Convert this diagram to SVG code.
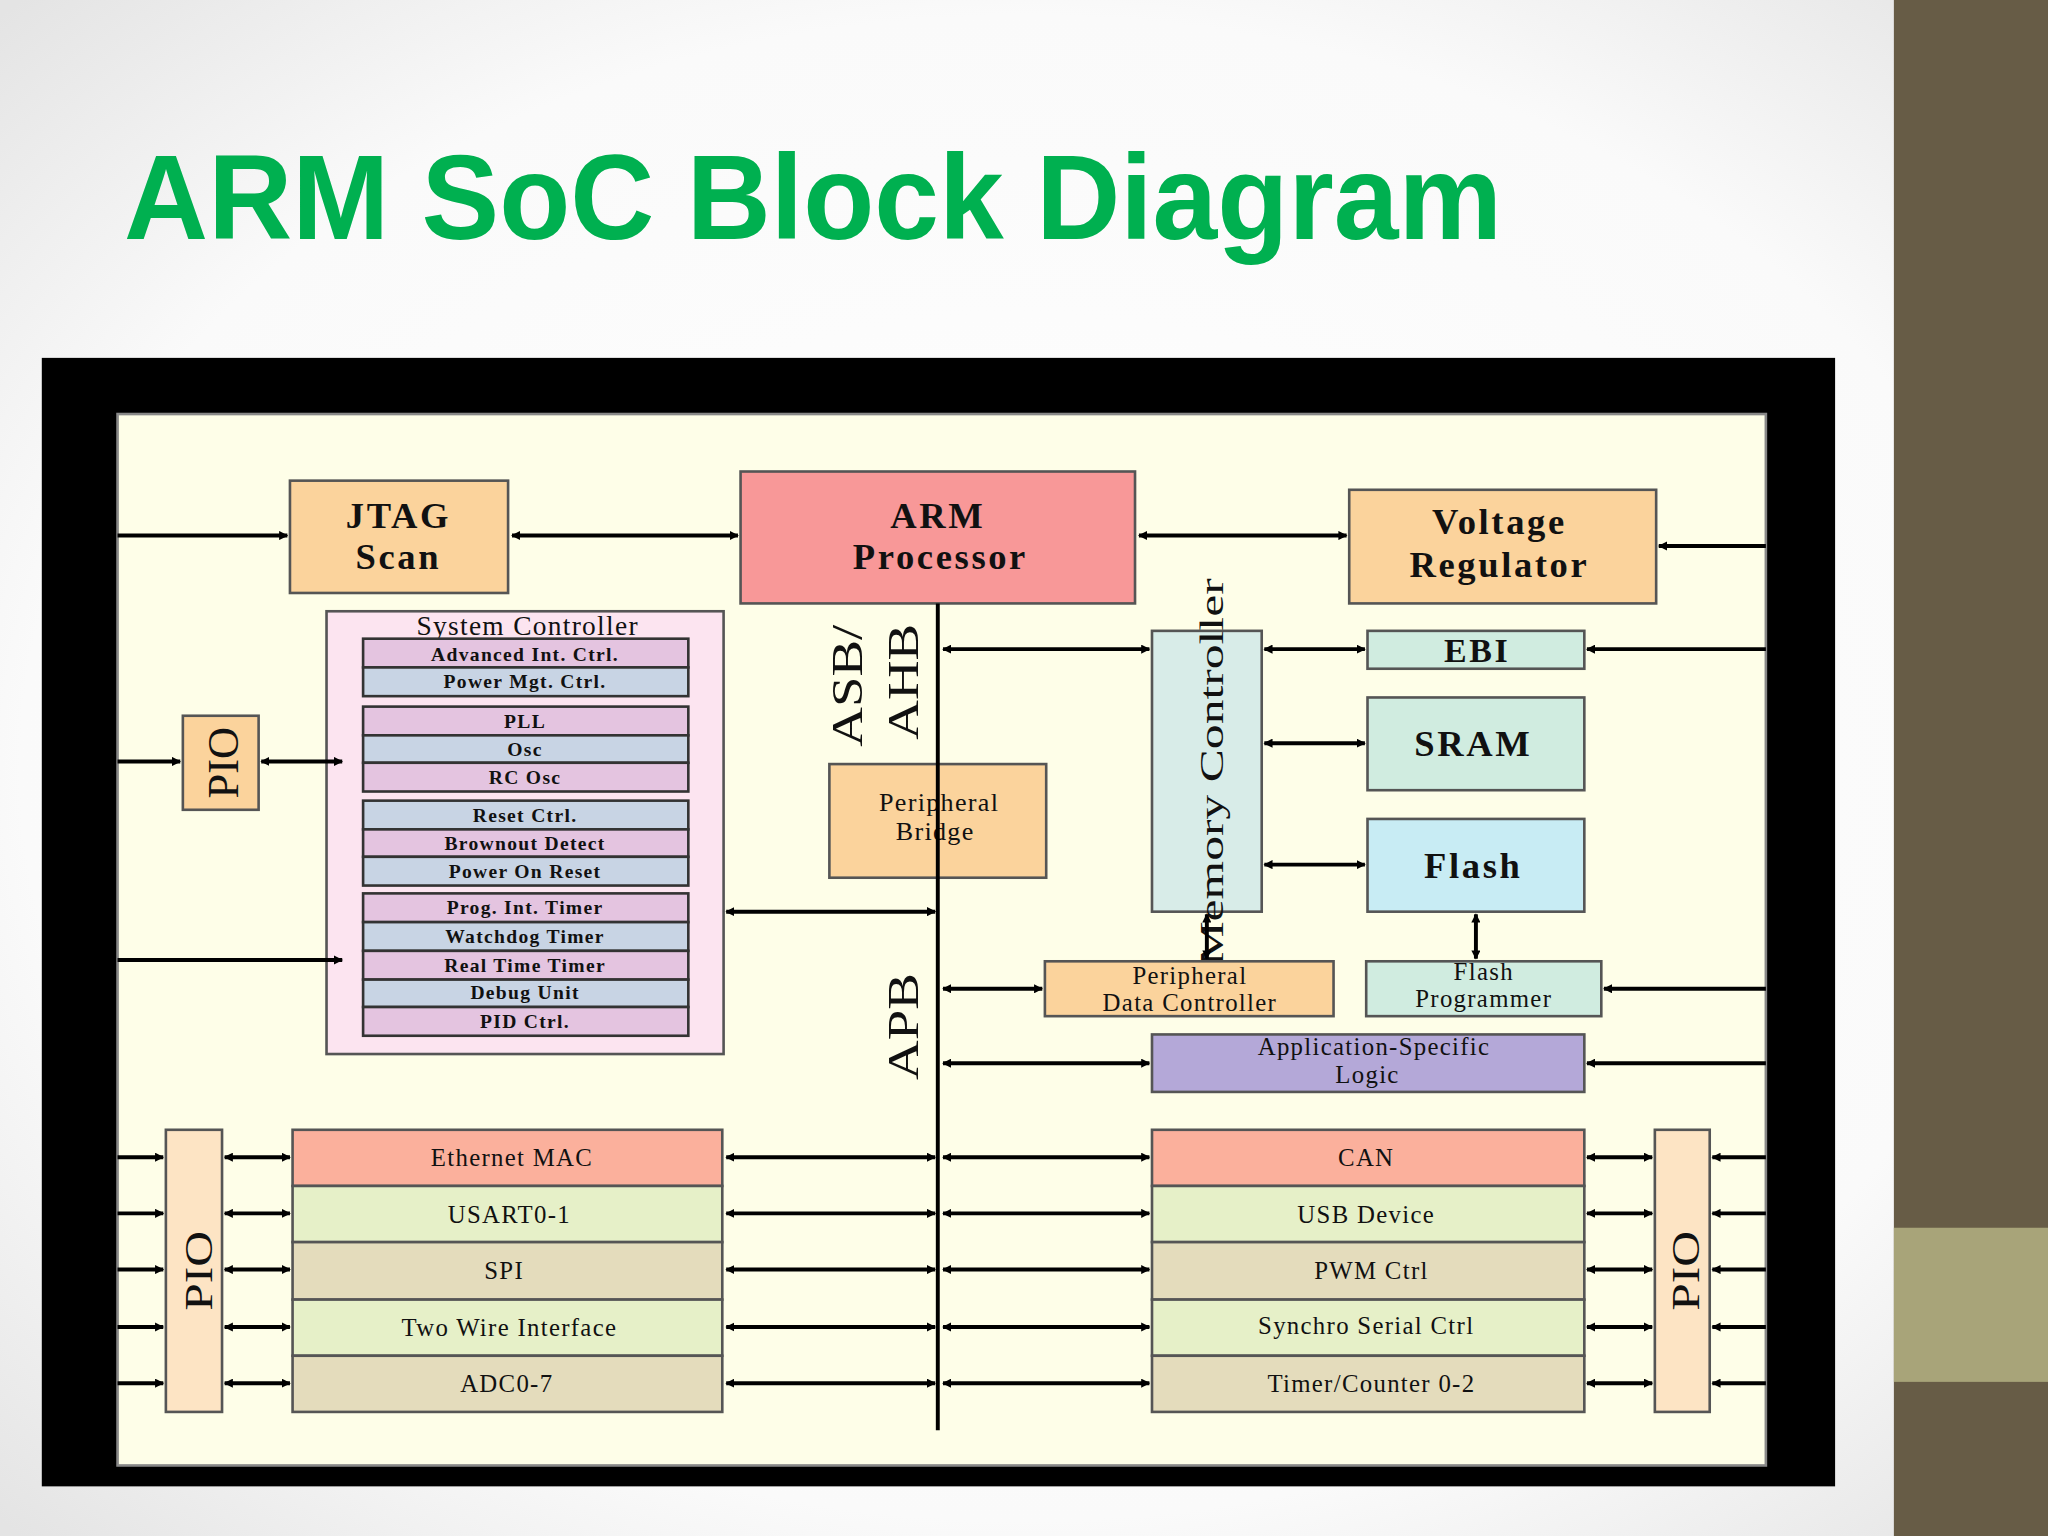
<svg xmlns="http://www.w3.org/2000/svg" width="2048" height="1536" viewBox="0 0 2048 1536">
<defs>
<radialGradient id="bg" cx="0.5" cy="0.5" r="0.7"><stop offset="0" stop-color="#ffffff"/><stop offset="0.7" stop-color="#fafafa"/><stop offset="1" stop-color="#e4e4e4"/></radialGradient>
<marker id="a" viewBox="0 0 10 10" refX="9" refY="5" markerWidth="7" markerHeight="7" orient="auto-start-reverse" markerUnits="userSpaceOnUse"><path d="M0,0 L10,5 L0,10 z" fill="#000"/></marker>
<style>
.b{stroke:#555;stroke-width:2}
.t{font-family:"Liberation Serif","DejaVu Serif",serif;font-weight:bold;fill:#111;text-anchor:middle;letter-spacing:2px}
.s{font-family:"Liberation Serif","DejaVu Serif",serif;font-weight:bold;fill:#111;text-anchor:middle;font-size:15px;letter-spacing:1px}
.v{font-family:"Liberation Serif","DejaVu Serif",serif;fill:#111;text-anchor:middle}
.c line{stroke:#000;stroke-width:3}
.d{marker-end:url(#a);marker-start:url(#a)}
.e{marker-end:url(#a)}
</style>
</defs>
<rect width="2048" height="1536" fill="url(#bg)"/>
<g transform="scale(1.30612)">
<rect x="1450" y="0" width="118" height="1176" fill="#675c46"/>
<rect x="1450" y="940" width="118" height="118" fill="#a8a479"/>
<text x="95" y="183" font-family="Liberation Sans,Arial,sans-serif" font-weight="bold" font-size="92" fill="#00b050" textLength="1055" lengthAdjust="spacingAndGlyphs">ARM SoC Block Diagram</text>
<rect x="32" y="274" width="1373" height="864" fill="#000"/>
<rect x="90" y="317" width="1262" height="805" fill="#fefee8" stroke="#888" stroke-width="2"/>

<g id="jtag"><rect class="b" x="222" y="368" width="167" height="86" fill="#fbd39c"/><text class="t" x="305" y="404" font-size="28">JTAG</text><text class="t" x="305" y="436" font-size="28">Scan</text></g>
<g id="arm"><rect class="b" x="567" y="361" width="302" height="101" fill="#f89898"/><text class="t" x="718" y="404" font-size="28">ARM</text><text class="t" x="720" y="436" font-size="28">Processor</text></g>
<g id="vreg"><rect class="b" x="1033" y="375" width="235" height="87" fill="#fbd39c"/><text class="t" x="1148" y="409" font-size="28">Voltage</text><text class="t" x="1148" y="442" font-size="28">Regulator</text></g>

<g id="sysctrl"><rect class="b" x="250" y="468" width="304" height="339" fill="#fce4f0"/>
<text class="v" x="404" y="486" font-size="21" letter-spacing="1">System Controller</text>
<g stroke="#333" stroke-width="2">
<rect x="278" y="489" width="249" height="22" fill="#e4c4e0"/><rect x="278" y="511" width="249" height="22" fill="#c8d4e4"/>
<rect x="278" y="541" width="249" height="22" fill="#e4c4e0"/><rect x="278" y="563" width="249" height="21" fill="#c8d4e4"/><rect x="278" y="584" width="249" height="22" fill="#e4c4e0"/>
<rect x="278" y="613" width="249" height="22" fill="#c8d4e4"/><rect x="278" y="635" width="249" height="21" fill="#e4c4e0"/><rect x="278" y="656" width="249" height="22" fill="#c8d4e4"/>
<rect x="278" y="684" width="249" height="22" fill="#e4c4e0"/><rect x="278" y="706" width="249" height="22" fill="#c8d4e4"/><rect x="278" y="728" width="249" height="22" fill="#e4c4e0"/><rect x="278" y="750" width="249" height="21" fill="#c8d4e4"/><rect x="278" y="771" width="249" height="22" fill="#e4c4e0"/>
</g>
<text class="s" x="402" y="506">Advanced Int. Ctrl.</text><text class="s" x="402" y="527">Power Mgt. Ctrl.</text>
<text class="s" x="402" y="557">PLL</text><text class="s" x="402" y="579">Osc</text><text class="s" x="402" y="600">RC Osc</text>
<text class="s" x="402" y="629">Reset Ctrl.</text><text class="s" x="402" y="651">Brownout Detect</text><text class="s" x="402" y="672">Power On Reset</text>
<text class="s" x="402" y="700">Prog. Int. Timer</text><text class="s" x="402" y="722">Watchdog Timer</text><text class="s" x="402" y="744">Real Time Timer</text><text class="s" x="402" y="765">Debug Unit</text><text class="s" x="402" y="787">PID Ctrl.</text>
</g>

<g id="pio1"><rect class="b" x="140" y="548" width="58" height="72" fill="#fbd39c"/><text class="v" font-size="34" transform="translate(182,584) rotate(-90)">PIO</text></g>
<g id="asb"><text class="v" font-size="42" transform="translate(660,525) rotate(-90) scale(1,0.8)">ASB/</text><text class="v" font-size="42" transform="translate(703,522) rotate(-90) scale(1,0.8)">AHB</text></g>
<g id="apb"><text class="v" font-size="42" transform="translate(703,786) rotate(-90) scale(1,0.8)">APB</text></g>
<g id="pbridge"><rect class="b" x="635" y="585" width="166" height="87" fill="#fbd39c"/><text class="v" x="719" y="621" font-size="20" letter-spacing="1">Peripheral</text><text class="v" x="716" y="643" font-size="20" letter-spacing="1">Bridge</text></g>
<g id="memctrl"><rect class="b" x="882" y="483" width="84" height="215" fill="#d8ece8"/><text class="v" font-size="38" transform="translate(936,591) rotate(-90) scale(1,0.7)">Memory Controller</text></g>
<g id="ebi"><rect class="b" x="1047" y="483" width="166" height="29" fill="#d0ece0"/><text class="t" x="1131" y="507" font-size="26">EBI</text></g>
<g id="sram"><rect class="b" x="1047" y="534" width="166" height="71" fill="#d0ece0"/><text class="t" x="1128" y="579" font-size="28">SRAM</text></g>
<g id="flash"><rect class="b" x="1047" y="627" width="166" height="71" fill="#c8ecf4"/><text class="t" x="1128" y="672" font-size="28">Flash</text></g>
<g id="pdc"><rect class="b" x="800" y="736" width="221" height="42" fill="#fbd39c"/><text class="v" x="911" y="753" font-size="19" letter-spacing="1">Peripheral</text><text class="v" x="911" y="774" font-size="19" letter-spacing="1">Data Controller</text></g>
<g id="fprog"><rect class="b" x="1046" y="736" width="180" height="42" fill="#d0ece0"/><text class="v" x="1136" y="750" font-size="19" letter-spacing="1">Flash</text><text class="v" x="1136" y="771" font-size="19" letter-spacing="1">Programmer</text></g>
<g id="asl"><rect class="b" x="882" y="792" width="331" height="44" fill="#b4a8d8"/><text class="v" x="1052" y="808" font-size="19" letter-spacing="1">Application-Specific</text><text class="v" x="1047" y="829" font-size="19" letter-spacing="1">Logic</text></g>

<g id="leftstack" font-size="19">
<rect class="b" x="224" y="865" width="329" height="43" fill="#fbb09c"/><text class="v" x="392" y="893" font-size="19" letter-spacing="1">Ethernet MAC</text>
<rect class="b" x="224" y="908" width="329" height="43" fill="#e6f0c8"/><text class="v" x="390" y="936" font-size="19" letter-spacing="1">USART0-1</text>
<rect class="b" x="224" y="951" width="329" height="44" fill="#e4dcbc"/><text class="v" x="386" y="979" font-size="19" letter-spacing="1">SPI</text>
<rect class="b" x="224" y="995" width="329" height="43" fill="#e6f0c8"/><text class="v" x="390" y="1023" font-size="19" letter-spacing="1">Two Wire Interface</text>
<rect class="b" x="224" y="1038" width="329" height="43" fill="#e4dcbc"/><text class="v" x="388" y="1066" font-size="19" letter-spacing="1">ADC0-7</text>
</g>
<g id="rightstack">
<rect class="b" x="882" y="865" width="331" height="43" fill="#fbb09c"/><text class="v" x="1046" y="893" font-size="19" letter-spacing="1">CAN</text>
<rect class="b" x="882" y="908" width="331" height="43" fill="#e6f0c8"/><text class="v" x="1046" y="936" font-size="19" letter-spacing="1">USB Device</text>
<rect class="b" x="882" y="951" width="331" height="44" fill="#e4dcbc"/><text class="v" x="1050" y="979" font-size="19" letter-spacing="1">PWM Ctrl</text>
<rect class="b" x="882" y="995" width="331" height="43" fill="#e6f0c8"/><text class="v" x="1046" y="1021" font-size="19" letter-spacing="1">Synchro Serial Ctrl</text>
<rect class="b" x="882" y="1038" width="331" height="43" fill="#e4dcbc"/><text class="v" x="1050" y="1066" font-size="19" letter-spacing="1">Timer/Counter 0-2</text>
</g>
<g id="pio2"><rect class="b" x="127" y="865" width="43" height="216" fill="#fde4c4"/><text class="v" font-size="38" transform="translate(162,973) rotate(-90) scale(1,0.8)">PIO</text></g>
<g id="pio3"><rect class="b" x="1267" y="865" width="42" height="216" fill="#fde4c4"/><text class="v" font-size="38" transform="translate(1301,973) rotate(-90) scale(1,0.8)">PIO</text></g>

<g id="connectors" class="c">
<line x1="718" y1="462" x2="718" y2="1095"/>
<line class="e" x1="90" y1="410" x2="220" y2="410"/>
<line class="d" x1="392" y1="410" x2="565" y2="410"/>
<line class="d" x1="872" y1="410" x2="1031" y2="410"/>
<line class="e" x1="1352" y1="418" x2="1270" y2="418"/>
<line class="e" x1="90" y1="583" x2="138" y2="583"/>
<line class="d" x1="200" y1="583" x2="262" y2="583"/>
<line class="e" x1="90" y1="735" x2="262" y2="735"/>
<line class="d" x1="556" y1="698" x2="716" y2="698"/>
<line class="d" x1="722" y1="497" x2="880" y2="497"/>
<line class="d" x1="968" y1="497" x2="1045" y2="497"/>
<line class="d" x1="968" y1="569" x2="1045" y2="569"/>
<line class="d" x1="968" y1="662" x2="1045" y2="662"/>
<line class="e" x1="1352" y1="497" x2="1215" y2="497"/>
<line class="d" x1="924" y1="700" x2="924" y2="734"/>
<line class="d" x1="1130" y1="700" x2="1130" y2="734"/>
<line class="d" x1="722" y1="757" x2="798" y2="757"/>
<line class="e" x1="1352" y1="757" x2="1228" y2="757"/>
<line class="d" x1="722" y1="814" x2="880" y2="814"/>
<line class="e" x1="1352" y1="814" x2="1215" y2="814"/>
<g id="rows">
<line class="e" x1="90" y1="886" x2="125" y2="886"/><line class="d" x1="172" y1="886" x2="222" y2="886"/><line class="d" x1="556" y1="886" x2="716" y2="886"/><line class="d" x1="722" y1="886" x2="880" y2="886"/><line class="d" x1="1215" y1="886" x2="1265" y2="886"/><line class="e" x1="1352" y1="886" x2="1311" y2="886"/>
<line class="e" x1="90" y1="929" x2="125" y2="929"/><line class="d" x1="172" y1="929" x2="222" y2="929"/><line class="d" x1="556" y1="929" x2="716" y2="929"/><line class="d" x1="722" y1="929" x2="880" y2="929"/><line class="d" x1="1215" y1="929" x2="1265" y2="929"/><line class="e" x1="1352" y1="929" x2="1311" y2="929"/>
<line class="e" x1="90" y1="972" x2="125" y2="972"/><line class="d" x1="172" y1="972" x2="222" y2="972"/><line class="d" x1="556" y1="972" x2="716" y2="972"/><line class="d" x1="722" y1="972" x2="880" y2="972"/><line class="d" x1="1215" y1="972" x2="1265" y2="972"/><line class="e" x1="1352" y1="972" x2="1311" y2="972"/>
<line class="e" x1="90" y1="1016" x2="125" y2="1016"/><line class="d" x1="172" y1="1016" x2="222" y2="1016"/><line class="d" x1="556" y1="1016" x2="716" y2="1016"/><line class="d" x1="722" y1="1016" x2="880" y2="1016"/><line class="d" x1="1215" y1="1016" x2="1265" y2="1016"/><line class="e" x1="1352" y1="1016" x2="1311" y2="1016"/>
<line class="e" x1="90" y1="1059" x2="125" y2="1059"/><line class="d" x1="172" y1="1059" x2="222" y2="1059"/><line class="d" x1="556" y1="1059" x2="716" y2="1059"/><line class="d" x1="722" y1="1059" x2="880" y2="1059"/><line class="d" x1="1215" y1="1059" x2="1265" y2="1059"/><line class="e" x1="1352" y1="1059" x2="1311" y2="1059"/>
</g>
</g>
</g>
</svg>
